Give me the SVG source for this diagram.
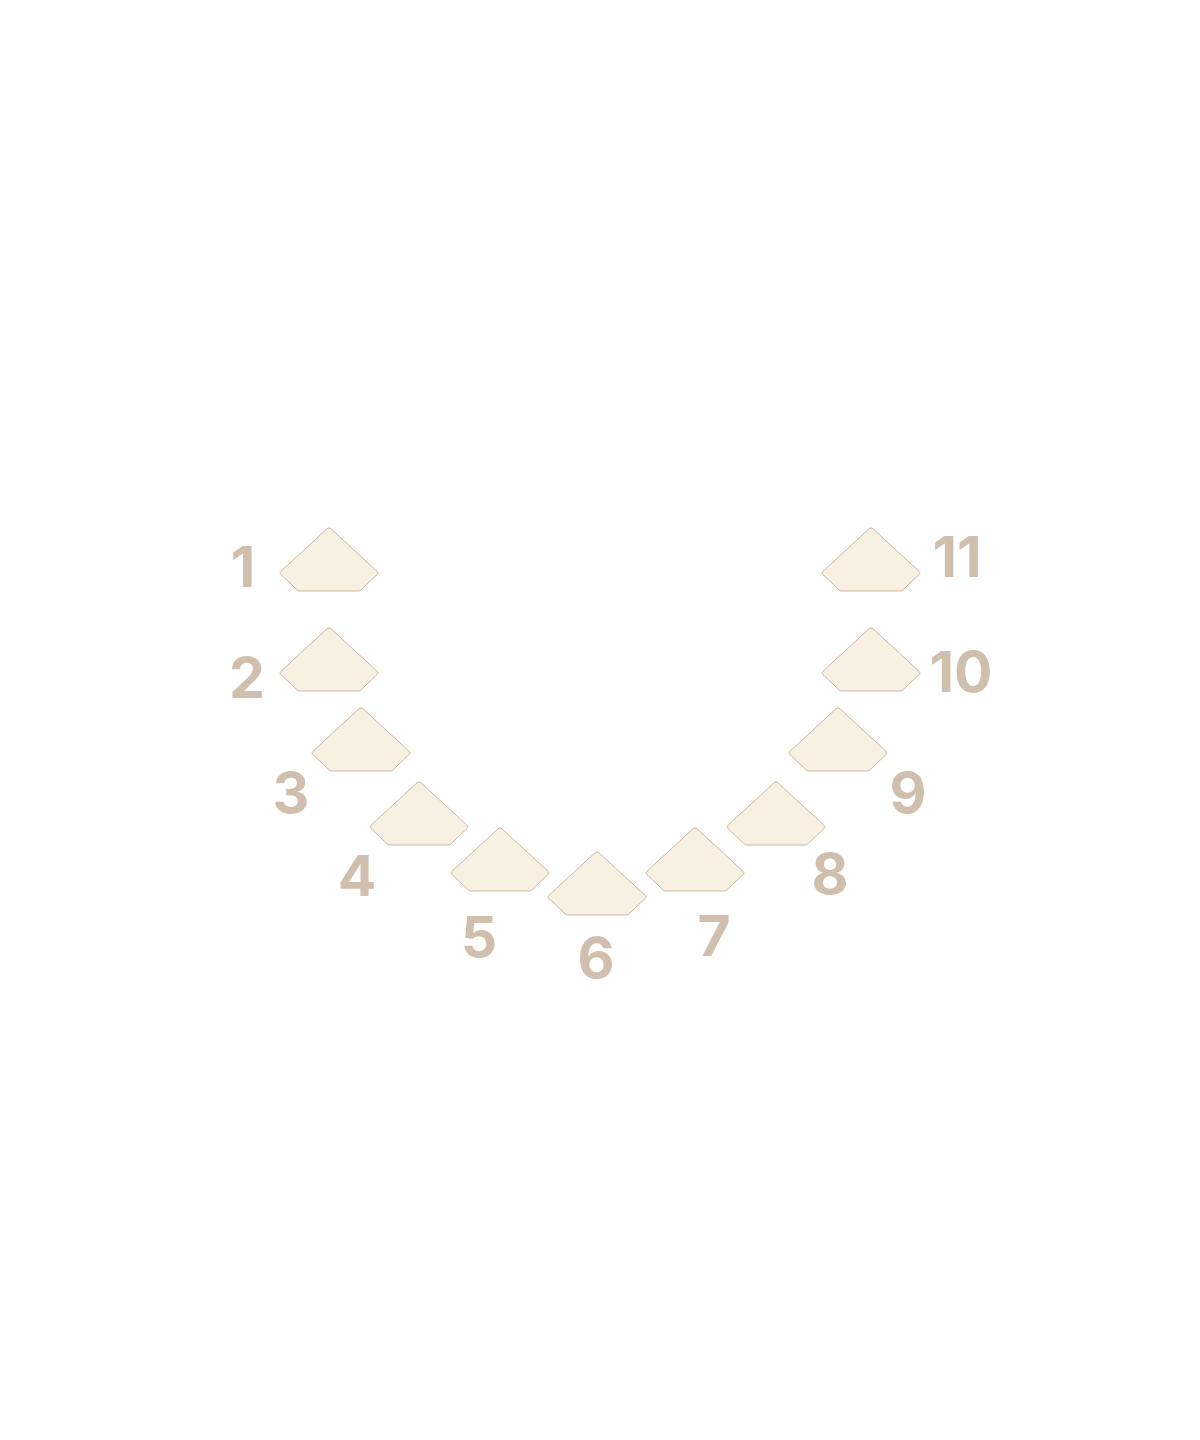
<svg xmlns="http://www.w3.org/2000/svg" width="1200" height="1440" viewBox="0 0 1200 1440">
<defs>
<style>
.t{fill:#f8f0e2;stroke:#cdb9a1;stroke-width:1;stroke-linejoin:round}
.n{font-family:Inter,"Noto Sans","DejaVu Sans",sans-serif;font-weight:700;font-size:57px;fill:#d0bfad;text-anchor:middle}
</style>
<path id="tooth" class="t" d="M-2,1.8 Q0,0 2,1.8 L48,44.2 Q50,46 48,47.6 L32,62.8 Q31,64 29,64 L-29,64 Q-31,64 -32,62.8 L-48,47.6 Q-50,46 -48,44.2 Z"/>
</defs>
<rect width="1200" height="1440" fill="#ffffff"/>
<g id="connectors"></g>
<g id="t1"><use href="#tooth" x="329" y="527"/><text class="n" x="243" y="587">1</text></g>
<g id="t2"><use href="#tooth" x="329" y="627"/><text class="n" x="247" y="698">2</text></g>
<g id="t3"><use href="#tooth" x="361" y="707"/><text class="n" x="291" y="813">3</text></g>
<g id="t4"><use href="#tooth" x="419" y="781"/><text class="n" x="357" y="896">4</text></g>
<g id="t5"><use href="#tooth" x="500" y="827"/><text class="n" x="479" y="957">5</text></g>
<g id="t6"><use href="#tooth" x="597" y="851"/><text class="n" x="596" y="978">6</text></g>
<g id="t7"><use href="#tooth" x="695" y="827"/><text class="n" x="714" y="956">7</text></g>
<g id="t8"><use href="#tooth" x="776" y="781"/><text class="n" x="830" y="894">8</text></g>
<g id="t9"><use href="#tooth" x="838" y="707"/><text class="n" x="908" y="813">9</text></g>
<g id="t10"><use href="#tooth" x="871" y="627"/><text class="n" x="961" y="692">10</text></g>
<g id="t11"><use href="#tooth" x="871" y="527"/><text class="n" x="957" y="577">11</text></g>
</svg>
